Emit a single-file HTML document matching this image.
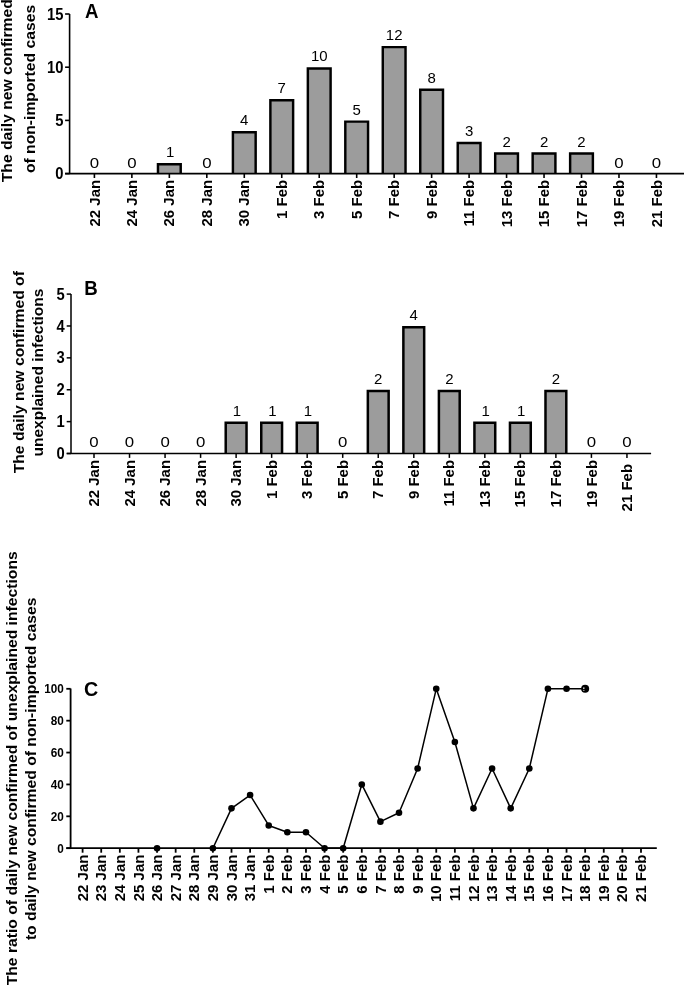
<!DOCTYPE html>
<html><head><meta charset="utf-8"><style>
html,body{margin:0;padding:0;background:#fff;width:685px;height:986px;overflow:hidden}
svg{display:block;filter:blur(0.5px)}
</style></head><body>
<svg width="685" height="986" viewBox="0 0 685 986" font-family='"Liberation Sans", sans-serif' fill="#000">
<path d="M157.97 173.6V164.18H180.72V173.6Z" fill="#9c9c9c" stroke="none"/>
<path d="M157.97 173.6V164.18H180.72V173.6" fill="none" stroke="#000" stroke-width="2.45" stroke-linejoin="miter"/>
<path d="M232.91 173.6V132.26H255.66V173.6Z" fill="#9c9c9c" stroke="none"/>
<path d="M232.91 173.6V132.26H255.66V173.6" fill="none" stroke="#000" stroke-width="2.45" stroke-linejoin="miter"/>
<path d="M270.38 173.6V100.34H293.12V173.6Z" fill="#9c9c9c" stroke="none"/>
<path d="M270.38 173.6V100.34H293.12V173.6" fill="none" stroke="#000" stroke-width="2.45" stroke-linejoin="miter"/>
<path d="M307.85 173.6V68.42H330.6V173.6Z" fill="#9c9c9c" stroke="none"/>
<path d="M307.85 173.6V68.42H330.6V173.6" fill="none" stroke="#000" stroke-width="2.45" stroke-linejoin="miter"/>
<path d="M345.31 173.6V121.62H368.06V173.6Z" fill="#9c9c9c" stroke="none"/>
<path d="M345.31 173.6V121.62H368.06V173.6" fill="none" stroke="#000" stroke-width="2.45" stroke-linejoin="miter"/>
<path d="M382.78 173.6V47.14H405.53V173.6Z" fill="#9c9c9c" stroke="none"/>
<path d="M382.78 173.6V47.14H405.53V173.6" fill="none" stroke="#000" stroke-width="2.45" stroke-linejoin="miter"/>
<path d="M420.25 173.6V89.7H443V173.6Z" fill="#9c9c9c" stroke="none"/>
<path d="M420.25 173.6V89.7H443V173.6" fill="none" stroke="#000" stroke-width="2.45" stroke-linejoin="miter"/>
<path d="M457.73 173.6V142.91H480.48V173.6Z" fill="#9c9c9c" stroke="none"/>
<path d="M457.73 173.6V142.91H480.48V173.6" fill="none" stroke="#000" stroke-width="2.45" stroke-linejoin="miter"/>
<path d="M495.19 173.6V153.54H517.94V173.6Z" fill="#9c9c9c" stroke="none"/>
<path d="M495.19 173.6V153.54H517.94V173.6" fill="none" stroke="#000" stroke-width="2.45" stroke-linejoin="miter"/>
<path d="M532.66 173.6V153.54H555.41V173.6Z" fill="#9c9c9c" stroke="none"/>
<path d="M532.66 173.6V153.54H555.41V173.6" fill="none" stroke="#000" stroke-width="2.45" stroke-linejoin="miter"/>
<path d="M570.13 173.6V153.54H592.88V173.6Z" fill="#9c9c9c" stroke="none"/>
<path d="M570.13 173.6V153.54H592.88V173.6" fill="none" stroke="#000" stroke-width="2.45" stroke-linejoin="miter"/>
<path d="M69.6 14V173.6M65.1 173.6H684" stroke="#000" stroke-width="1.6" fill="none"/>
<path d="M65.1 173.6H69.6" stroke="#000" stroke-width="1.6"/>
<text transform="translate(63.4,179.2) scale(0.89,1)" font-size="16.6" font-weight="bold" text-anchor="end">0</text>
<path d="M65.1 120.4H69.6" stroke="#000" stroke-width="1.6"/>
<text transform="translate(63.4,126) scale(0.89,1)" font-size="16.6" font-weight="bold" text-anchor="end">5</text>
<path d="M65.1 67.2H69.6" stroke="#000" stroke-width="1.6"/>
<text transform="translate(63.4,72.8) scale(0.89,1)" font-size="16.6" font-weight="bold" text-anchor="end">10</text>
<path d="M65.1 14H69.6" stroke="#000" stroke-width="1.6"/>
<text transform="translate(63.4,19.6) scale(0.89,1)" font-size="16.6" font-weight="bold" text-anchor="end">15</text>
<path d="M94.4 173.6V178" stroke="#000" stroke-width="1.6"/>
<text transform="translate(99.5,179.8) scale(1.03,1) rotate(-90)" font-size="15" font-weight="bold" text-anchor="end">22 Jan</text>
<text transform="translate(94.4,167.8) scale(1.1,1)" font-size="15.3" text-anchor="middle">0</text>
<path d="M131.87 173.6V178" stroke="#000" stroke-width="1.6"/>
<text transform="translate(136.97,179.8) scale(1.03,1) rotate(-90)" font-size="15" font-weight="bold" text-anchor="end">24 Jan</text>
<text transform="translate(131.87,167.8) scale(1.1,1)" font-size="15.3" text-anchor="middle">0</text>
<path d="M169.34 173.6V178" stroke="#000" stroke-width="1.6"/>
<text transform="translate(174.44,179.8) scale(1.03,1) rotate(-90)" font-size="15" font-weight="bold" text-anchor="end">26 Jan</text>
<text transform="translate(170.14,157.16) scale(0.98,1)" font-size="15.3" text-anchor="middle">1</text>
<path d="M206.81 173.6V178" stroke="#000" stroke-width="1.6"/>
<text transform="translate(211.91,179.8) scale(1.03,1) rotate(-90)" font-size="15" font-weight="bold" text-anchor="end">28 Jan</text>
<text transform="translate(206.81,167.8) scale(1.1,1)" font-size="15.3" text-anchor="middle">0</text>
<path d="M244.28 173.6V178" stroke="#000" stroke-width="1.6"/>
<text transform="translate(249.38,179.8) scale(1.03,1) rotate(-90)" font-size="15" font-weight="bold" text-anchor="end">30 Jan</text>
<text transform="translate(244.28,125.24) scale(0.98,1)" font-size="15.3" text-anchor="middle">4</text>
<path d="M281.75 173.6V178" stroke="#000" stroke-width="1.6"/>
<text transform="translate(286.85,179.8) scale(1.03,1) rotate(-90)" font-size="15" font-weight="bold" text-anchor="end">1 Feb</text>
<text transform="translate(281.75,93.32) scale(0.98,1)" font-size="15.3" text-anchor="middle">7</text>
<path d="M319.22 173.6V178" stroke="#000" stroke-width="1.6"/>
<text transform="translate(324.32,179.8) scale(1.03,1) rotate(-90)" font-size="15" font-weight="bold" text-anchor="end">3 Feb</text>
<text transform="translate(319.22,61.4) scale(0.98,1)" font-size="15.3" text-anchor="middle">10</text>
<path d="M356.69 173.6V178" stroke="#000" stroke-width="1.6"/>
<text transform="translate(361.79,179.8) scale(1.03,1) rotate(-90)" font-size="15" font-weight="bold" text-anchor="end">5 Feb</text>
<text transform="translate(356.69,114.6) scale(0.98,1)" font-size="15.3" text-anchor="middle">5</text>
<path d="M394.16 173.6V178" stroke="#000" stroke-width="1.6"/>
<text transform="translate(399.26,179.8) scale(1.03,1) rotate(-90)" font-size="15" font-weight="bold" text-anchor="end">7 Feb</text>
<text transform="translate(394.16,40.12) scale(0.98,1)" font-size="15.3" text-anchor="middle">12</text>
<path d="M431.63 173.6V178" stroke="#000" stroke-width="1.6"/>
<text transform="translate(436.73,179.8) scale(1.03,1) rotate(-90)" font-size="15" font-weight="bold" text-anchor="end">9 Feb</text>
<text transform="translate(431.63,82.68) scale(0.98,1)" font-size="15.3" text-anchor="middle">8</text>
<path d="M469.1 173.6V178" stroke="#000" stroke-width="1.6"/>
<text transform="translate(474.2,179.8) scale(1.03,1) rotate(-90)" font-size="15" font-weight="bold" text-anchor="end">11 Feb</text>
<text transform="translate(469.1,135.88) scale(0.98,1)" font-size="15.3" text-anchor="middle">3</text>
<path d="M506.57 173.6V178" stroke="#000" stroke-width="1.6"/>
<text transform="translate(511.67,179.8) scale(1.03,1) rotate(-90)" font-size="15" font-weight="bold" text-anchor="end">13 Feb</text>
<text transform="translate(506.57,146.52) scale(0.98,1)" font-size="15.3" text-anchor="middle">2</text>
<path d="M544.04 173.6V178" stroke="#000" stroke-width="1.6"/>
<text transform="translate(549.14,179.8) scale(1.03,1) rotate(-90)" font-size="15" font-weight="bold" text-anchor="end">15 Feb</text>
<text transform="translate(544.04,146.52) scale(0.98,1)" font-size="15.3" text-anchor="middle">2</text>
<path d="M581.51 173.6V178" stroke="#000" stroke-width="1.6"/>
<text transform="translate(586.61,179.8) scale(1.03,1) rotate(-90)" font-size="15" font-weight="bold" text-anchor="end">17 Feb</text>
<text transform="translate(581.51,146.52) scale(0.98,1)" font-size="15.3" text-anchor="middle">2</text>
<path d="M618.98 173.6V178" stroke="#000" stroke-width="1.6"/>
<text transform="translate(624.08,179.8) scale(1.03,1) rotate(-90)" font-size="15" font-weight="bold" text-anchor="end">19 Feb</text>
<text transform="translate(618.98,167.8) scale(1.1,1)" font-size="15.3" text-anchor="middle">0</text>
<path d="M656.45 173.6V178" stroke="#000" stroke-width="1.6"/>
<text transform="translate(661.55,179.8) scale(1.03,1) rotate(-90)" font-size="15" font-weight="bold" text-anchor="end">21 Feb</text>
<text transform="translate(656.45,167.8) scale(1.1,1)" font-size="15.3" text-anchor="middle">0</text>
<text transform="translate(84.9,17.7) scale(0.92,1)" font-size="20.3" font-weight="bold">A</text>
<text transform="translate(11.9,90.7) scale(0.96,1) rotate(-90)" font-size="15.7" font-weight="bold" text-anchor="middle">The daily new confirmed</text>
<text transform="translate(35,89) scale(0.96,1) rotate(-90)" font-size="15.7" font-weight="bold" text-anchor="middle">of non-imported cases</text>
<path d="M225.72 453.5V422.87H246.52V453.5Z" fill="#9c9c9c" stroke="none"/>
<path d="M225.72 453.5V422.87H246.52V453.5" fill="none" stroke="#000" stroke-width="2.5" stroke-linejoin="miter"/>
<path d="M261.25 453.5V422.87H282.05V453.5Z" fill="#9c9c9c" stroke="none"/>
<path d="M261.25 453.5V422.87H282.05V453.5" fill="none" stroke="#000" stroke-width="2.5" stroke-linejoin="miter"/>
<path d="M296.78 453.5V422.87H317.58V453.5Z" fill="#9c9c9c" stroke="none"/>
<path d="M296.78 453.5V422.87H317.58V453.5" fill="none" stroke="#000" stroke-width="2.5" stroke-linejoin="miter"/>
<path d="M367.84 453.5V390.99H388.64V453.5Z" fill="#9c9c9c" stroke="none"/>
<path d="M367.84 453.5V390.99H388.64V453.5" fill="none" stroke="#000" stroke-width="2.5" stroke-linejoin="miter"/>
<path d="M403.37 453.5V327.23H424.17V453.5Z" fill="#9c9c9c" stroke="none"/>
<path d="M403.37 453.5V327.23H424.17V453.5" fill="none" stroke="#000" stroke-width="2.5" stroke-linejoin="miter"/>
<path d="M438.9 453.5V390.99H459.7V453.5Z" fill="#9c9c9c" stroke="none"/>
<path d="M438.9 453.5V390.99H459.7V453.5" fill="none" stroke="#000" stroke-width="2.5" stroke-linejoin="miter"/>
<path d="M474.43 453.5V422.87H495.23V453.5Z" fill="#9c9c9c" stroke="none"/>
<path d="M474.43 453.5V422.87H495.23V453.5" fill="none" stroke="#000" stroke-width="2.5" stroke-linejoin="miter"/>
<path d="M509.96 453.5V422.87H530.76V453.5Z" fill="#9c9c9c" stroke="none"/>
<path d="M509.96 453.5V422.87H530.76V453.5" fill="none" stroke="#000" stroke-width="2.5" stroke-linejoin="miter"/>
<path d="M545.49 453.5V390.99H566.29V453.5Z" fill="#9c9c9c" stroke="none"/>
<path d="M545.49 453.5V390.99H566.29V453.5" fill="none" stroke="#000" stroke-width="2.5" stroke-linejoin="miter"/>
<path d="M71 294.1V453.5M66.7 453.5H651.1" stroke="#000" stroke-width="1.5" fill="none"/>
<path d="M66.7 453.5H71" stroke="#000" stroke-width="1.5"/>
<text transform="translate(64.7,459.1) scale(0.89,1)" font-size="16.6" font-weight="bold" text-anchor="end">0</text>
<path d="M66.7 421.62H71" stroke="#000" stroke-width="1.5"/>
<text transform="translate(64.7,427.22) scale(0.89,1)" font-size="16.6" font-weight="bold" text-anchor="end">1</text>
<path d="M66.7 389.74H71" stroke="#000" stroke-width="1.5"/>
<text transform="translate(64.7,395.34) scale(0.89,1)" font-size="16.6" font-weight="bold" text-anchor="end">2</text>
<path d="M66.7 357.86H71" stroke="#000" stroke-width="1.5"/>
<text transform="translate(64.7,363.46) scale(0.89,1)" font-size="16.6" font-weight="bold" text-anchor="end">3</text>
<path d="M66.7 325.98H71" stroke="#000" stroke-width="1.5"/>
<text transform="translate(64.7,331.58) scale(0.89,1)" font-size="16.6" font-weight="bold" text-anchor="end">4</text>
<path d="M66.7 294.1H71" stroke="#000" stroke-width="1.5"/>
<text transform="translate(64.7,299.7) scale(0.89,1)" font-size="16.6" font-weight="bold" text-anchor="end">5</text>
<path d="M94 453.5V457.9" stroke="#000" stroke-width="1.5"/>
<text transform="translate(99.1,459.9) scale(1.03,1) rotate(-90)" font-size="15" font-weight="bold" text-anchor="end">22 Jan</text>
<text transform="translate(94,447.1) scale(1.1,1)" font-size="15.3" text-anchor="middle">0</text>
<path d="M129.53 453.5V457.9" stroke="#000" stroke-width="1.5"/>
<text transform="translate(134.63,459.9) scale(1.03,1) rotate(-90)" font-size="15" font-weight="bold" text-anchor="end">24 Jan</text>
<text transform="translate(129.53,447.1) scale(1.1,1)" font-size="15.3" text-anchor="middle">0</text>
<path d="M165.06 453.5V457.9" stroke="#000" stroke-width="1.5"/>
<text transform="translate(170.16,459.9) scale(1.03,1) rotate(-90)" font-size="15" font-weight="bold" text-anchor="end">26 Jan</text>
<text transform="translate(165.06,447.1) scale(1.1,1)" font-size="15.3" text-anchor="middle">0</text>
<path d="M200.59 453.5V457.9" stroke="#000" stroke-width="1.5"/>
<text transform="translate(205.69,459.9) scale(1.03,1) rotate(-90)" font-size="15" font-weight="bold" text-anchor="end">28 Jan</text>
<text transform="translate(200.59,447.1) scale(1.1,1)" font-size="15.3" text-anchor="middle">0</text>
<path d="M236.12 453.5V457.9" stroke="#000" stroke-width="1.5"/>
<text transform="translate(241.22,459.9) scale(1.03,1) rotate(-90)" font-size="15" font-weight="bold" text-anchor="end">30 Jan</text>
<text transform="translate(236.92,415.82) scale(0.98,1)" font-size="15.3" text-anchor="middle">1</text>
<path d="M271.65 453.5V457.9" stroke="#000" stroke-width="1.5"/>
<text transform="translate(276.75,459.9) scale(1.03,1) rotate(-90)" font-size="15" font-weight="bold" text-anchor="end">1 Feb</text>
<text transform="translate(272.45,415.82) scale(0.98,1)" font-size="15.3" text-anchor="middle">1</text>
<path d="M307.18 453.5V457.9" stroke="#000" stroke-width="1.5"/>
<text transform="translate(312.28,459.9) scale(1.03,1) rotate(-90)" font-size="15" font-weight="bold" text-anchor="end">3 Feb</text>
<text transform="translate(307.98,415.82) scale(0.98,1)" font-size="15.3" text-anchor="middle">1</text>
<path d="M342.71 453.5V457.9" stroke="#000" stroke-width="1.5"/>
<text transform="translate(347.81,459.9) scale(1.03,1) rotate(-90)" font-size="15" font-weight="bold" text-anchor="end">5 Feb</text>
<text transform="translate(342.71,447.1) scale(1.1,1)" font-size="15.3" text-anchor="middle">0</text>
<path d="M378.24 453.5V457.9" stroke="#000" stroke-width="1.5"/>
<text transform="translate(383.34,459.9) scale(1.03,1) rotate(-90)" font-size="15" font-weight="bold" text-anchor="end">7 Feb</text>
<text transform="translate(378.24,383.94) scale(0.98,1)" font-size="15.3" text-anchor="middle">2</text>
<path d="M413.77 453.5V457.9" stroke="#000" stroke-width="1.5"/>
<text transform="translate(418.87,459.9) scale(1.03,1) rotate(-90)" font-size="15" font-weight="bold" text-anchor="end">9 Feb</text>
<text transform="translate(413.77,320.18) scale(0.98,1)" font-size="15.3" text-anchor="middle">4</text>
<path d="M449.3 453.5V457.9" stroke="#000" stroke-width="1.5"/>
<text transform="translate(454.4,459.9) scale(1.03,1) rotate(-90)" font-size="15" font-weight="bold" text-anchor="end">11 Feb</text>
<text transform="translate(449.3,383.94) scale(0.98,1)" font-size="15.3" text-anchor="middle">2</text>
<path d="M484.83 453.5V457.9" stroke="#000" stroke-width="1.5"/>
<text transform="translate(489.93,459.9) scale(1.03,1) rotate(-90)" font-size="15" font-weight="bold" text-anchor="end">13 Feb</text>
<text transform="translate(485.63,415.82) scale(0.98,1)" font-size="15.3" text-anchor="middle">1</text>
<path d="M520.36 453.5V457.9" stroke="#000" stroke-width="1.5"/>
<text transform="translate(525.46,459.9) scale(1.03,1) rotate(-90)" font-size="15" font-weight="bold" text-anchor="end">15 Feb</text>
<text transform="translate(521.16,415.82) scale(0.98,1)" font-size="15.3" text-anchor="middle">1</text>
<path d="M555.89 453.5V457.9" stroke="#000" stroke-width="1.5"/>
<text transform="translate(560.99,459.9) scale(1.03,1) rotate(-90)" font-size="15" font-weight="bold" text-anchor="end">17 Feb</text>
<text transform="translate(555.89,383.94) scale(0.98,1)" font-size="15.3" text-anchor="middle">2</text>
<path d="M591.42 453.5V457.9" stroke="#000" stroke-width="1.5"/>
<text transform="translate(596.52,459.9) scale(1.03,1) rotate(-90)" font-size="15" font-weight="bold" text-anchor="end">19 Feb</text>
<text transform="translate(591.42,447.1) scale(1.1,1)" font-size="15.3" text-anchor="middle">0</text>
<path d="M626.95 453.5V457.9" stroke="#000" stroke-width="1.5"/>
<text transform="translate(632.05,463.9) scale(1.03,1) rotate(-90)" font-size="15" font-weight="bold" text-anchor="end">21 Feb</text>
<text transform="translate(626.95,447.1) scale(1.1,1)" font-size="15.3" text-anchor="middle">0</text>
<text transform="translate(84.2,294.8) scale(0.92,1)" font-size="20.3" font-weight="bold">B</text>
<text transform="translate(24,372.2) scale(0.96,1) rotate(-90)" font-size="15.7" font-weight="bold" text-anchor="middle">The daily new confirmed of</text>
<text transform="translate(42.8,372.55) scale(0.96,1) rotate(-90)" font-size="15.5" font-weight="bold" text-anchor="middle">unexplained infections</text>
<path d="M70.6 688.6V848.2M66.3 848.2H656.8" stroke="#000" stroke-width="1.8" fill="none"/>
<path d="M66.3 848.2H70.6" stroke="#000" stroke-width="1.8"/>
<text transform="translate(63.8,852.5) scale(0.98,1)" font-size="12" font-weight="bold" text-anchor="end">0</text>
<path d="M66.3 816.32H70.6" stroke="#000" stroke-width="1.8"/>
<text transform="translate(63.8,820.62) scale(0.98,1)" font-size="12" font-weight="bold" text-anchor="end">20</text>
<path d="M66.3 784.44H70.6" stroke="#000" stroke-width="1.8"/>
<text transform="translate(63.8,788.74) scale(0.98,1)" font-size="12" font-weight="bold" text-anchor="end">40</text>
<path d="M66.3 752.56H70.6" stroke="#000" stroke-width="1.8"/>
<text transform="translate(63.8,756.86) scale(0.98,1)" font-size="12" font-weight="bold" text-anchor="end">60</text>
<path d="M66.3 720.68H70.6" stroke="#000" stroke-width="1.8"/>
<text transform="translate(63.8,724.98) scale(0.98,1)" font-size="12" font-weight="bold" text-anchor="end">80</text>
<path d="M66.3 688.8H70.6" stroke="#000" stroke-width="1.8"/>
<text transform="translate(63.8,693.1) scale(0.98,1)" font-size="12" font-weight="bold" text-anchor="end">100</text>
<path d="M82.6 848.2V852.7" stroke="#000" stroke-width="1.8"/>
<text transform="translate(87.7,854.6) scale(1.03,1) rotate(-90)" font-size="15" font-weight="bold" text-anchor="end">22 Jan</text>
<path d="M101.21 848.2V852.7" stroke="#000" stroke-width="1.8"/>
<text transform="translate(106.31,854.6) scale(1.03,1) rotate(-90)" font-size="15" font-weight="bold" text-anchor="end">23 Jan</text>
<path d="M119.83 848.2V852.7" stroke="#000" stroke-width="1.8"/>
<text transform="translate(124.93,854.6) scale(1.03,1) rotate(-90)" font-size="15" font-weight="bold" text-anchor="end">24 Jan</text>
<path d="M138.44 848.2V852.7" stroke="#000" stroke-width="1.8"/>
<text transform="translate(143.54,854.6) scale(1.03,1) rotate(-90)" font-size="15" font-weight="bold" text-anchor="end">25 Jan</text>
<path d="M157.05 848.2V852.7" stroke="#000" stroke-width="1.8"/>
<text transform="translate(162.15,854.6) scale(1.03,1) rotate(-90)" font-size="15" font-weight="bold" text-anchor="end">26 Jan</text>
<path d="M175.66 848.2V852.7" stroke="#000" stroke-width="1.8"/>
<text transform="translate(180.76,854.6) scale(1.03,1) rotate(-90)" font-size="15" font-weight="bold" text-anchor="end">27 Jan</text>
<path d="M194.28 848.2V852.7" stroke="#000" stroke-width="1.8"/>
<text transform="translate(199.38,854.6) scale(1.03,1) rotate(-90)" font-size="15" font-weight="bold" text-anchor="end">28 Jan</text>
<path d="M212.89 848.2V852.7" stroke="#000" stroke-width="1.8"/>
<text transform="translate(217.99,854.6) scale(1.03,1) rotate(-90)" font-size="15" font-weight="bold" text-anchor="end">29 Jan</text>
<path d="M231.5 848.2V852.7" stroke="#000" stroke-width="1.8"/>
<text transform="translate(236.6,854.6) scale(1.03,1) rotate(-90)" font-size="15" font-weight="bold" text-anchor="end">30 Jan</text>
<path d="M250.12 848.2V852.7" stroke="#000" stroke-width="1.8"/>
<text transform="translate(255.22,854.6) scale(1.03,1) rotate(-90)" font-size="15" font-weight="bold" text-anchor="end">31 Jan</text>
<path d="M268.73 848.2V852.7" stroke="#000" stroke-width="1.8"/>
<text transform="translate(273.83,854.6) scale(1.03,1) rotate(-90)" font-size="15" font-weight="bold" text-anchor="end">1 Feb</text>
<path d="M287.34 848.2V852.7" stroke="#000" stroke-width="1.8"/>
<text transform="translate(292.44,854.6) scale(1.03,1) rotate(-90)" font-size="15" font-weight="bold" text-anchor="end">2 Feb</text>
<path d="M305.96 848.2V852.7" stroke="#000" stroke-width="1.8"/>
<text transform="translate(311.06,854.6) scale(1.03,1) rotate(-90)" font-size="15" font-weight="bold" text-anchor="end">3 Feb</text>
<path d="M324.57 848.2V852.7" stroke="#000" stroke-width="1.8"/>
<text transform="translate(329.67,854.6) scale(1.03,1) rotate(-90)" font-size="15" font-weight="bold" text-anchor="end">4 Feb</text>
<path d="M343.18 848.2V852.7" stroke="#000" stroke-width="1.8"/>
<text transform="translate(348.28,854.6) scale(1.03,1) rotate(-90)" font-size="15" font-weight="bold" text-anchor="end">5 Feb</text>
<path d="M361.79 848.2V852.7" stroke="#000" stroke-width="1.8"/>
<text transform="translate(366.89,854.6) scale(1.03,1) rotate(-90)" font-size="15" font-weight="bold" text-anchor="end">6 Feb</text>
<path d="M380.41 848.2V852.7" stroke="#000" stroke-width="1.8"/>
<text transform="translate(385.51,854.6) scale(1.03,1) rotate(-90)" font-size="15" font-weight="bold" text-anchor="end">7 Feb</text>
<path d="M399.02 848.2V852.7" stroke="#000" stroke-width="1.8"/>
<text transform="translate(404.12,854.6) scale(1.03,1) rotate(-90)" font-size="15" font-weight="bold" text-anchor="end">8 Feb</text>
<path d="M417.63 848.2V852.7" stroke="#000" stroke-width="1.8"/>
<text transform="translate(422.73,854.6) scale(1.03,1) rotate(-90)" font-size="15" font-weight="bold" text-anchor="end">9 Feb</text>
<path d="M436.25 848.2V852.7" stroke="#000" stroke-width="1.8"/>
<text transform="translate(441.35,854.6) scale(1.03,1) rotate(-90)" font-size="15" font-weight="bold" text-anchor="end">10 Feb</text>
<path d="M454.86 848.2V852.7" stroke="#000" stroke-width="1.8"/>
<text transform="translate(459.96,854.6) scale(1.03,1) rotate(-90)" font-size="15" font-weight="bold" text-anchor="end">11 Feb</text>
<path d="M473.47 848.2V852.7" stroke="#000" stroke-width="1.8"/>
<text transform="translate(478.57,854.6) scale(1.03,1) rotate(-90)" font-size="15" font-weight="bold" text-anchor="end">12 Feb</text>
<path d="M492.09 848.2V852.7" stroke="#000" stroke-width="1.8"/>
<text transform="translate(497.19,854.6) scale(1.03,1) rotate(-90)" font-size="15" font-weight="bold" text-anchor="end">13 Feb</text>
<path d="M510.7 848.2V852.7" stroke="#000" stroke-width="1.8"/>
<text transform="translate(515.8,854.6) scale(1.03,1) rotate(-90)" font-size="15" font-weight="bold" text-anchor="end">14 Feb</text>
<path d="M529.31 848.2V852.7" stroke="#000" stroke-width="1.8"/>
<text transform="translate(534.41,854.6) scale(1.03,1) rotate(-90)" font-size="15" font-weight="bold" text-anchor="end">15 Feb</text>
<path d="M547.92 848.2V852.7" stroke="#000" stroke-width="1.8"/>
<text transform="translate(553.02,854.6) scale(1.03,1) rotate(-90)" font-size="15" font-weight="bold" text-anchor="end">16 Feb</text>
<path d="M566.54 848.2V852.7" stroke="#000" stroke-width="1.8"/>
<text transform="translate(571.64,854.6) scale(1.03,1) rotate(-90)" font-size="15" font-weight="bold" text-anchor="end">17 Feb</text>
<path d="M585.15 848.2V852.7" stroke="#000" stroke-width="1.8"/>
<text transform="translate(590.25,854.6) scale(1.03,1) rotate(-90)" font-size="15" font-weight="bold" text-anchor="end">18 Feb</text>
<path d="M603.76 848.2V852.7" stroke="#000" stroke-width="1.8"/>
<text transform="translate(608.86,854.6) scale(1.03,1) rotate(-90)" font-size="15" font-weight="bold" text-anchor="end">19 Feb</text>
<path d="M622.38 848.2V852.7" stroke="#000" stroke-width="1.8"/>
<text transform="translate(627.48,854.6) scale(1.03,1) rotate(-90)" font-size="15" font-weight="bold" text-anchor="end">20 Feb</text>
<path d="M640.99 848.2V852.7" stroke="#000" stroke-width="1.8"/>
<text transform="translate(646.09,854.6) scale(1.03,1) rotate(-90)" font-size="15" font-weight="bold" text-anchor="end">21 Feb</text>
<path d="M157.05 848.2M212.89 848.2L231.5 808.35L250.12 795.07L268.73 825.43L287.34 832.26L305.96 832.26L324.57 848.2L343.18 848.2L361.79 784.44L380.41 821.63L399.02 812.78L417.63 768.5L436.25 688.8L454.86 741.93L473.47 808.35L492.09 768.5L510.7 808.35L529.31 768.5L547.92 688.8L566.54 688.8L585.15 688.8" stroke="#000" stroke-width="1.5" fill="none" stroke-linejoin="round"/>
<circle cx="157.05" cy="848.2" r="3.3"/>
<circle cx="212.89" cy="848.2" r="3.3"/>
<circle cx="231.5" cy="808.35" r="3.3"/>
<circle cx="250.12" cy="795.07" r="3.3"/>
<circle cx="268.73" cy="825.43" r="3.3"/>
<circle cx="287.34" cy="832.26" r="3.3"/>
<circle cx="305.96" cy="832.26" r="3.3"/>
<circle cx="324.57" cy="848.2" r="3.3"/>
<circle cx="343.18" cy="848.2" r="3.3"/>
<circle cx="361.79" cy="784.44" r="3.3"/>
<circle cx="380.41" cy="821.63" r="3.3"/>
<circle cx="399.02" cy="812.78" r="3.3"/>
<circle cx="417.63" cy="768.5" r="3.3"/>
<circle cx="436.25" cy="688.8" r="3.3"/>
<circle cx="454.86" cy="741.93" r="3.3"/>
<circle cx="473.47" cy="808.35" r="3.3"/>
<circle cx="492.09" cy="768.5" r="3.3"/>
<circle cx="510.7" cy="808.35" r="3.3"/>
<circle cx="529.31" cy="768.5" r="3.3"/>
<circle cx="547.92" cy="688.8" r="3.3"/>
<circle cx="566.54" cy="688.8" r="3.3"/>
<circle cx="585.15" cy="688.8" r="4.0"/>
<rect x="583.15" y="687.4" width="1.3" height="1.6" fill="#ddd"/><rect x="583.15" y="689.9" width="1.3" height="1.0" fill="#bbb"/>
<text transform="translate(84.1,696.2) scale(0.97,1)" font-size="20.3" font-weight="bold">C</text>
<text transform="translate(17.3,768.3) scale(0.96,1) rotate(-90)" font-size="15.7" font-weight="bold" text-anchor="middle">The ratio of daily new confirmed of unexplained infections</text>
<text transform="translate(35.7,768.85) scale(0.96,1) rotate(-90)" font-size="15.7" font-weight="bold" text-anchor="middle">to daily new confirmed of non-imported cases</text>
</svg>
</body></html>
